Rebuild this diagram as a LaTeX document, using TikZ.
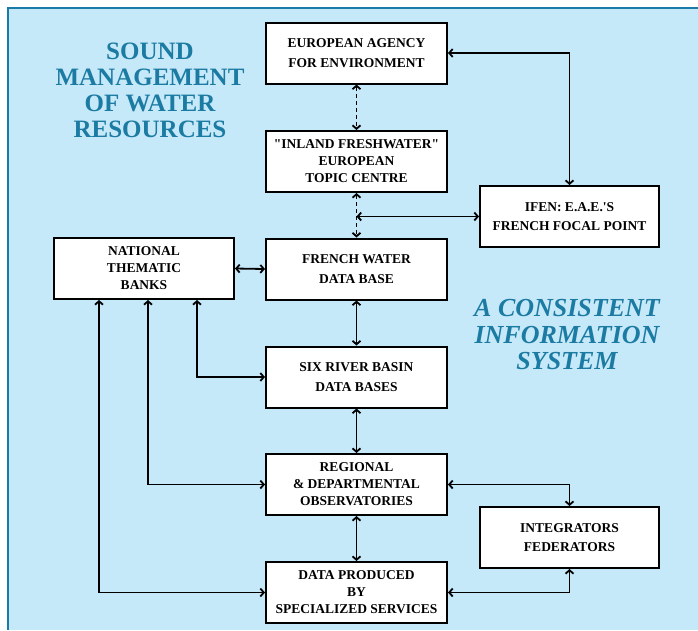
\documentclass[tikz,border=0pt]{standalone}
\usepackage{fontspec}
\setmainfont{Liberation Serif}[Ligatures=TeXOff]
\usetikzlibrary{arrows.meta}
\definecolor{panelblue}{HTML}{C6E9F9}
\definecolor{panelline}{HTML}{1A7BA8}
\definecolor{titleteal}{HTML}{1B7BA3}
\tikzset{
    info-box/.style = {draw=black, fill=white, line width=2pt, rectangle, minimum width=181pt, minimum height=61pt, inner sep=2pt, align=center, font=\fontsize{13.5}{19.5}\selectfont\bfseries},
    info-box-tall/.style = {info-box, font=\fontsize{13.5}{17}\selectfont\bfseries},
    link/.style = {line width=1.8pt, {Straight Barb[length=3.5pt,width=8pt]}-{Straight Barb[length=3.5pt,width=8pt]}},
    dashed-link/.style = {link, dash pattern=on 4pt off 3pt},
    big-title/.style = {text=titleteal, align=center, font=\fontsize{25}{26}\selectfont\bfseries},
    info-title/.style = {big-title, font=\fontsize{26}{26.5}\selectfont\bfseries\itshape},
}

\begin{document}
\begin{tikzpicture}[x=1pt, y=-1pt]
\useasboundingbox (0,0) rectangle (698,630);
\fill[panelblue] (8,8) rectangle (698,630);
\draw[panelline, line width=1.2pt] (8,630) -- (8,8) -- (698,8);

\node[big-title] (sound) at (150,90) {SOUND\\MANAGEMENT\\OF WATER\\RESOURCES};
\node[info-title] (consistent) at (567,335) {A CONSISTENT\\INFORMATION\\SYSTEM};

\node[info-box] (eea) at (356.5,53) {EUROPEAN AGENCY\\FOR ENVIRONMENT};
\node[info-box-tall] (inland) at (356.5,161.5) {"INLAND FRESHWATER"\\EUROPEAN\\TOPIC CENTRE};
\node[info-box, minimum width=179pt] (ifen) at (569.5,216.5) {IFEN: E.A.E.'S\\FRENCH FOCAL POINT};
\node[info-box] (french) at (356.5,269) {FRENCH WATER\\DATA BASE};
\node[info-box-tall, minimum width=180pt] (national) at (144,268.5) {NATIONAL\\THEMATIC\\BANKS};
\node[info-box] (six) at (356.5,377) {SIX RIVER BASIN\\DATA BASES};
\node[info-box-tall] (regional) at (356.5,484.5) {REGIONAL\\\& DEPARTMENTAL\\OBSERVATORIES};
\node[info-box, minimum width=179pt] (integ) at (569.5,537.5) {INTEGRATORS\\FEDERATORS};
\node[info-box-tall] (data) at (356.5,592.5) {DATA PRODUCED\\BY\\SPECIALIZED SERVICES};

\draw[link] (eea.east) -| (ifen.north);
\draw[dashed-link] (eea.south) -- (inland.north);
\draw[dashed-link] (inland.south) -- (french.north);
\draw[link] (ifen.west) -- (ifen.west -| inland.south);
\draw[link] (national.east) -- (french.west);
\draw[link] (french.south) -- (six.north);
\draw[link] (six.south) -- (regional.north);
\draw[link] (regional.south) -- (data.north);
\draw[link] ([xshift=53pt]national.south) |- (six.west);
\draw[link] ([xshift=4pt]national.south) |- (regional.west);
\draw[link] ([xshift=-45pt]national.south) |- (data.west);
\draw[link] (regional.east) -| (integ.north);
\draw[link] (data.east) -| (integ.south);
\end{tikzpicture}
\end{document}
